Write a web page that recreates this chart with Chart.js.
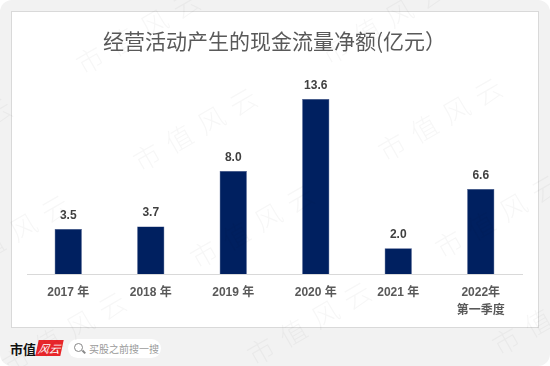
<!DOCTYPE html>
<html>
<head>
<meta charset="utf-8">
<script src="https://cdn.jsdelivr.net/npm/chart.js@4.4.0/dist/chart.umd.min.js"></script>
<style>
  html, body { margin: 0; padding: 0; background: #ffffff; }
  #card { position: relative; width: 550px; height: 366px; background: #f2f2f2; border-radius: 12px; overflow: hidden; }
  #panel { position: absolute; left: 11px; top: 11px; width: 526px; height: 315px; background: #fff; border: 1px solid #d9d9d9; }
  #chart { position: absolute; left: 0; top: 0; z-index: 2; }
  #brand { position: absolute; left: 10px; top: 340px; font: bold 13px "Noto Sans CJK SC", sans-serif; color: #111; line-height: 17px; white-space: nowrap; }
  #logo { position: absolute; left: 37px; top: 340px; width: 25px; height: 16px; background: #e8262a; color: #fff;
          font: italic 11px "Noto Sans CJK SC", sans-serif; line-height: 16px; text-align: center; transform: skewX(-12deg); white-space: nowrap; }
  #search { position: absolute; left: 68px; top: 339px; width: 93px; height: 19px; background: #fff; border-radius: 10px; }
  #search .lens { position: absolute; left: 6px; top: 4px; width: 7px; height: 7px; border: 1.5px solid #888; border-radius: 50%; }
  #search .handle { position: absolute; left: 14px; top: 12px; width: 4px; height: 1.5px; background: #888; transform: rotate(45deg); }
  #search .txt { position: absolute; left: 21px; top: 1px; font: 10px "Noto Sans CJK SC", sans-serif; color: #9a9a9a; line-height: 17px; white-space: nowrap; }
</style>
</head>
<body>
<div id="card">
  <div id="panel"></div>
  <div id="brand">市值</div>
  <div id="logo">风云</div>
  <div id="search"><div class="lens"></div><div class="handle"></div><div class="txt">买股之前搜一搜</div></div>
  <canvas id="chart" width="550" height="366"></canvas>
</div>
<script>
let categories = ["2017 年", "2018 年", "2019 年", "2020 年", "2021 年", ["2022年", "第一季度"]];
let cashFlow = [3.5, 3.7, 8.0, 13.6, 2.0, 6.6];
let valueLabels = ["3.5", "3.7", "8.0", "13.6", "2.0", "6.6"];

// value labels above each bar
const barLabels = {
    id: "barLabels",
    afterDatasetsDraw(chart) {
        let ctx = chart.ctx;
        let meta = chart.getDatasetMeta(0);
        ctx.save();
        ctx.font = "bold 12px 'Liberation Sans', Arial, sans-serif";
        ctx.fillStyle = "#404040";
        ctx.textAlign = "center";
        ctx.textBaseline = "alphabetic";
        meta.data.forEach((bar, i) => {
            ctx.fillText(valueLabels[i], bar.x, bar.y - 10);
        });
        ctx.restore();
    }
};

// faint diagonal watermark
const watermark = {
    id: "watermark",
    afterDraw(chart) {
        let ctx = chart.ctx;
        let text = "市值风云";
        let ang = -30 * Math.PI / 180;
        ctx.save();
        ctx.font = "300 27px 'Noto Sans CJK SC', sans-serif";
        ctx.fillStyle = "rgba(0,0,0,0.035)";
        ctx.textAlign = "center";
        ctx.textBaseline = "middle";
        for (let i = -2; i <= 3; i++) {
            for (let j = -2; j <= 4; j++) {
                let x0 = 90 + i * 245 + j * 57;
                let y0 = 60 - i * 10 + j * 97;
                for (let k = 0; k < text.length; k++) {
                    let x = x0 + Math.cos(ang) * 37 * k;
                    let y = y0 + Math.sin(ang) * 37 * k;
                    ctx.save();
                    ctx.translate(x, y);
                    ctx.rotate(ang);
                    ctx.fillText(text[k], 0, 0);
                    ctx.restore();
                }
            }
        }
        ctx.restore();
    }
};

new Chart(document.getElementById("chart").getContext("2d"), {
    type: "bar",
    data: {
        labels: categories,
        datasets: [{
            data: cashFlow,
            backgroundColor: "#002060",
            borderColor: "#2b3f7a",
            borderWidth: 0.5,
            barPercentage: 0.33,
            categoryPercentage: 1
        }]
    },
    options: {
        responsive: false,
        animation: false,
        layout: { padding: { left: 27, right: 28, top: 0, bottom: 42 } },
        plugins: {
            legend: { display: false },
            tooltip: { enabled: false },
            title: {
                display: true,
                text: "经营活动产生的现金流量净额(亿元）",
                color: "#595959",
                font: { size: 21, weight: "normal", family: "'Noto Sans CJK SC', sans-serif", lineHeight: 1.2 },
                padding: { top: 28, bottom: 15 }
            }
        },
        scales: {
            y: { display: false, min: 0, max: 16 },
            x: {
                grid: { display: false, drawTicks: false },
                border: { display: true, color: "#d9d9d9", width: 1 },
                ticks: {
                    color: "#595959",
                    padding: 10,
                    font: { size: 12, weight: "bold", family: "'Liberation Sans', Arial, 'Noto Sans CJK SC', sans-serif", lineHeight: 1.5 }
                },
                afterFit(scale) { scale.height = 50; }
            }
        }
    },
    plugins: [barLabels, watermark]
});
</script>
</body>
</html>
